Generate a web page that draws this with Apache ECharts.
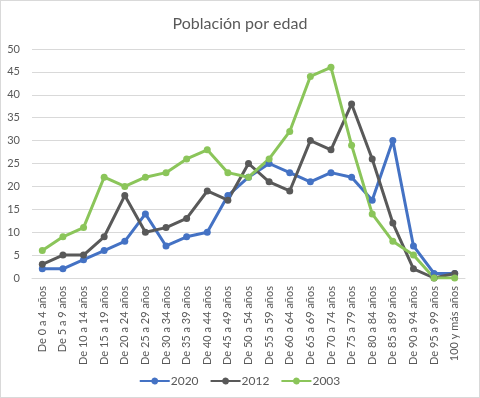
<!DOCTYPE html>
<html>
<head>
<meta charset="utf-8">
<script src="https://cdn.jsdelivr.net/npm/echarts@6/dist/echarts.min.js"></script>
<style>
html,body{margin:0;padding:0;background:#fff;}
#c{width:480px;height:398px;box-sizing:border-box;border:1px solid #d9d9d9;}
</style>
</head>
<body>
<div id="c"></div>
<script>
const categories = ["De 0 a 4 años","De 5 a 9 años","De 10 a 14 años","De 15 a 19 años","De 20 a 24 años","De 25 a 29 años","De 30 a 34 años","De 35 a 39 años","De 40 a 44 años","De 45 a 49 años","De 50 a 54 años","De 55 a 59 años","De 60 a 64 años","De 65 a 69 años","De 70 a 74 años","De 75 a 79 años","De 80 a 84 años","De 85 a 89 años","De 90 a 94 años","De 95 a 99 años","100 y más años"];
const s2020 = [2,2,4,6,8,14,7,9,10,18,22,25,23,21,23,22,17,30,7,1,1];
const s2012 = [3,5,5,9,18,10,11,13,19,17,25,21,19,30,28,38,26,12,2,0,1];
const s2003 = [6,9,11,22,20,22,23,26,28,23,22,26,32,44,46,29,14,8,5,0,0];
const seriesNames = ["2020","2012","2003"];
const colors = ["#4472C4","#595959","#8BC55A"];
const FONT = "Lato";

const chart = echarts.init(document.getElementById('c'));
const mk = (name, data, color) => ({
  name, type: 'line', data,
  lineStyle: {width: 3, color},
  itemStyle: {color},
  symbol: 'circle', symbolSize: 7,
  showSymbol: true
});
chart.setOption({
  animation: false,
  color: colors,
  title: {
    text: 'Población por edad', left: 'center', top: 10,
    textStyle: {fontFamily: FONT, fontSize: 16, fontWeight: 'normal', color: '#595959'}
  },
  legend: {
    bottom: 5, left: 'center', itemWidth: 30, itemHeight: 8, itemGap: 12,
    icon: 'path://M0,3 L11.65,3 A3.5,3.5 0 0 1 18.35,3 L30,3 L30,5 L18.35,5 A3.5,3.5 0 0 1 11.65,5 L0,5 Z',
    textStyle: {fontFamily: FONT, fontSize: 12, color: '#595959', padding: [0,0,0,-4]},
    data: seriesNames
  },
  grid: {left: 31, right: 14, top: 48, bottom: 119},
  xAxis: {
    type: 'category', data: categories, boundaryGap: true,
    axisLine: {lineStyle: {color: '#d9d9d9'}},
    axisTick: {show: false},
    axisLabel: {rotate: 90, interval: 0, fontFamily: FONT, fontSize: 11, color: '#595959', margin: 8}
  },
  yAxis: {
    type: 'value', min: 0, max: 50, interval: 5,
    axisLine: {show: false}, axisTick: {show: false},
    splitLine: {lineStyle: {color: '#d9d9d9'}},
    axisLabel: {fontFamily: FONT, fontSize: 11, color: '#595959', margin: 12}
  },
  series: [
    mk(seriesNames[0], s2020, colors[0]),
    mk(seriesNames[1], s2012, colors[1]),
    mk(seriesNames[2], s2003, colors[2])
  ]
});
</script>
</body>
</html>
